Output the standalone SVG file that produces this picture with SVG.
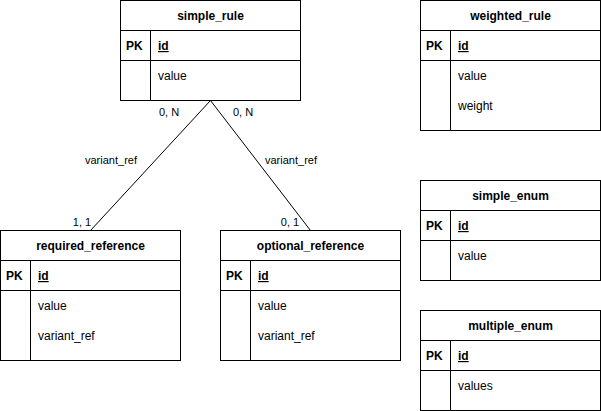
<svg xmlns="http://www.w3.org/2000/svg" width="601" height="411" viewBox="0 0 601 411">
<style>
.box{fill:#fff;stroke:#000;stroke-width:1}
.ln{stroke:#000;stroke-width:1;fill:none}
text{font-family:"Liberation Sans",Arial,sans-serif;font-size:12px;fill:#000}
.t{font-weight:bold;text-anchor:middle}
.pk{font-weight:bold}
.id{font-weight:bold;text-decoration:underline}
.lbl{font-size:11px}
.lb{font-size:11px;text-anchor:middle}
</style>
<rect x="0" y="0" width="601" height="411" fill="#fff"/>
<g id="connectors">
<path class="ln" d="M210.5 100.5 L90.5 230.5"/>
<path class="ln" d="M210.5 100.5 L310.5 230.5"/>
<text class="lb" x="169" y="116">0, N</text>
<text class="lb" x="243" y="116">0, N</text>
<text class="lb" x="111" y="164">variant_ref</text>
<text class="lb" x="291" y="164">variant_ref</text>
<text class="lb" x="82" y="226">1, 1</text>
<text class="lb" x="290" y="226">0, 1</text>
</g>
<g id="simple_rule">
<rect class="box" x="120.5" y="0.5" width="180" height="100"/>
<path class="ln" d="M120.5 30.5 H300.5 M120.5 60.5 H300.5 M150.5 30.5 V100.5"/>
<text class="t" x="210.5" y="20">simple_rule</text>
<text class="pk" x="126" y="50">PK</text>
<text class="id" x="158" y="50">id</text>
<text x="158" y="80">value</text>
</g>
<g id="weighted_rule">
<rect class="box" x="420.5" y="0.5" width="180" height="130"/>
<path class="ln" d="M420.5 30.5 H600.5 M420.5 60.5 H600.5 M450.5 30.5 V130.5"/>
<text class="t" x="510.5" y="20">weighted_rule</text>
<text class="pk" x="426" y="50">PK</text>
<text class="id" x="458" y="50">id</text>
<text x="458" y="80">value</text>
<text x="458" y="110">weight</text>
</g>
<g id="simple_enum">
<rect class="box" x="420.5" y="180.5" width="180" height="100"/>
<path class="ln" d="M420.5 210.5 H600.5 M420.5 240.5 H600.5 M450.5 210.5 V280.5"/>
<text class="t" x="510.5" y="200">simple_enum</text>
<text class="pk" x="426" y="230">PK</text>
<text class="id" x="458" y="230">id</text>
<text x="458" y="260">value</text>
</g>
<g id="multiple_enum">
<rect class="box" x="420.5" y="310.5" width="180" height="100"/>
<path class="ln" d="M420.5 340.5 H600.5 M420.5 370.5 H600.5 M450.5 340.5 V410.5"/>
<text class="t" x="510.5" y="330">multiple_enum</text>
<text class="pk" x="426" y="360">PK</text>
<text class="id" x="458" y="360">id</text>
<text x="458" y="390">values</text>
</g>
<g id="required_reference">
<rect class="box" x="0.5" y="230.5" width="180" height="130"/>
<path class="ln" d="M0.5 260.5 H180.5 M0.5 290.5 H180.5 M30.5 260.5 V360.5"/>
<text class="t" x="90.5" y="250">required_reference</text>
<text class="pk" x="6" y="280">PK</text>
<text class="id" x="38" y="280">id</text>
<text x="38" y="310">value</text>
<text x="38" y="340">variant_ref</text>
</g>
<g id="optional_reference">
<rect class="box" x="220.5" y="230.5" width="180" height="130"/>
<path class="ln" d="M220.5 260.5 H400.5 M220.5 290.5 H400.5 M250.5 260.5 V360.5"/>
<text class="t" x="310.5" y="250">optional_reference</text>
<text class="pk" x="226" y="280">PK</text>
<text class="id" x="258" y="280">id</text>
<text x="258" y="310">value</text>
<text x="258" y="340">variant_ref</text>
</g>
</svg>
